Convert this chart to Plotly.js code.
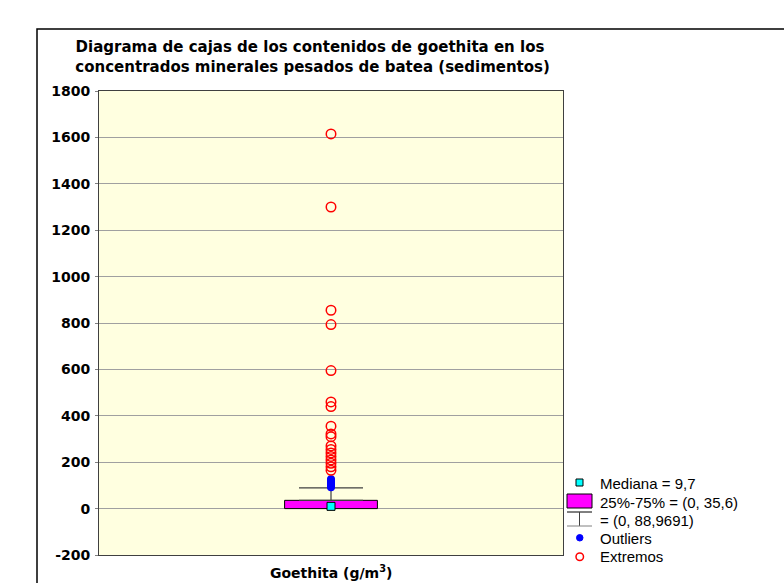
<!DOCTYPE html>
<html>
<head>
<meta charset="utf-8">
<script src="https://cdn.plot.ly/plotly-3.0.1.min.js"></script>
<style>html,body{margin:0;padding:0;background:#fff;}#chart{width:784px;height:583px;}</style>
</head>
<body>
<div id="chart"></div>
<script>
// ---- data ----
var category = 'Goethita';
var q1 = 0;
var median = 9.7;
var q3 = 35.6;
var whiskerLow = 0;
var whiskerHigh = 88.9691;
var outliers = [92, 97, 102, 107, 112, 117, 122, 127];
var extremos = [1615, 1300, 855, 793, 595, 460, 440, 355, 322, 310, 270, 255, 240, 225, 210, 195, 180, 165];
var yTicks = [-200, 0, 200, 400, 600, 800, 1000, 1200, 1400, 1600, 1800];
var legendLabels = ['Mediana = 9,7', '25%-75% = (0, 35,6)', '= (0, 88,9691)', 'Outliers', 'Extremos'];

// ---- layout helpers (pixel -> paper) ----
var L = 99, R = 563, T = 91, B = 555, W = 784, H = 583;
function px(x) { return (x - L) / (R - L); }
function py(y) { return (B - y) / (B - T); }

var font = 'Liberation Sans, Arial, sans-serif';
var boldFont = 'DejaVu Sans, sans-serif';
var xpos = 0;

var traces = [
  { // box (25%-75%)
    type: 'bar', x: [xpos], base: [q1], y: [q3 - q1], width: 0.4,
    marker: { color: '#FF00FF', line: { color: '#000000', width: 1 } },
    hoverinfo: 'skip', showlegend: false
  },
  { // whisker
    type: 'scatter', mode: 'markers', x: [xpos], y: [q3],
    marker: { size: 1, color: 'rgba(0,0,0,0)' },
    error_y: { type: 'data', symmetric: false, array: [whiskerHigh - q3], arrayminus: [whiskerLow],
               color: '#404040', thickness: 1.2, width: 32 },
    showlegend: false, hoverinfo: 'skip'
  },
  { // outliers
    type: 'scatter', mode: 'markers', x: outliers.map(function(){return xpos;}), y: outliers,
    marker: { symbol: 'circle', size: 8, color: '#0000FF' }, showlegend: false
  },
  { // extremes
    type: 'scatter', mode: 'markers', x: extremos.map(function(){return xpos;}), y: extremos,
    marker: { symbol: 'circle-open', size: 9.5, color: '#FF0000', line: { width: 1.5, color: '#FF0000' } },
    showlegend: false
  },
  { // median
    type: 'scatter', mode: 'markers', x: [xpos], y: [median],
    marker: { symbol: 'square', size: 8, color: '#00FFFF', line: { color: '#000000', width: 1 } },
    showlegend: false
  }
];

// ---- custom legend ----
var shapes = [
  { type: 'rect', xref: 'paper', yref: 'paper', x0: px(37), x1: 3, y0: -1, y1: py(29),
    line: { color: '#000000', width: 1.5 }, fillcolor: 'rgba(0,0,0,0)', layer: 'below' },
  // median square
  { type: 'rect', xref: 'paper', yref: 'paper', x0: px(576), x1: px(583), y0: py(486), y1: py(479),
    fillcolor: '#00FFFF', line: { color: '#000000', width: 1 } },
  // box rect
  { type: 'rect', xref: 'paper', yref: 'paper', x0: px(567), x1: px(592), y0: py(508), y1: py(494),
    fillcolor: '#FF00FF', line: { color: '#000000', width: 1 } },
  // whisker symbol
  { type: 'line', xref: 'paper', yref: 'paper', x0: px(567), x1: px(592), y0: py(512), y1: py(512),
    line: { color: '#000000', width: 1 } },
  { type: 'line', xref: 'paper', yref: 'paper', x0: px(579.5), x1: px(579.5), y0: py(512), y1: py(526),
    line: { color: '#404040', width: 1 } },
  { type: 'line', xref: 'paper', yref: 'paper', x0: px(567), x1: px(592), y0: py(526), y1: py(526),
    line: { color: '#808080', width: 1 } },
  // outlier dot
  { type: 'circle', xref: 'paper', yref: 'paper', x0: px(576.5), x1: px(583), y0: py(541), y1: py(534.5),
    fillcolor: '#0000FF', line: { color: '#0000FF', width: 1 } },
  // extreme circle
  { type: 'circle', xref: 'paper', yref: 'paper', x0: px(576), x1: px(583.5), y0: py(560.5), y1: py(553),
    fillcolor: 'rgba(0,0,0,0)', line: { color: '#FF0000', width: 1.5 } }
];
var legendY = [483, 502, 520, 538, 556];
var annotations = legendLabels.map(function (t, i) {
  return { xref: 'paper', yref: 'paper', x: px(598), y: py(legendY[i]), xanchor: 'left', yanchor: 'middle',
           text: t, showarrow: false, font: { family: font, size: 15, color: '#000000' } };
});
annotations.push({ xref: 'paper', yref: 'paper', x: px(331), y: py(583), xanchor: 'center', yanchor: 'bottom',
  text: '<b>Goethita (g/m<sup>3</sup>)</b>', showarrow: false, font: { family: boldFont, size: 14, color: '#000000' } });

var layout = {
  width: W, height: H,
  margin: { l: L, r: W - R, t: T, b: H - B, pad: 0 },
  paper_bgcolor: '#FFFFFF',
  plot_bgcolor: '#FFFFE0',
  showlegend: false,
  title: {
    text: 'Diagrama de cajas de los contenidos de goethita en los<br> concentrados minerales pesados de batea (sedimentos)',
    font: { family: boldFont, size: 15, color: '#000000', weight: 'bold' },
    xref: 'container', yref: 'container', x: 310 / W, xanchor: 'center', y: 1 - 52 / H, yanchor: 'top'
  },
  xaxis: { range: [-1, 1], showticklabels: false, showgrid: false, zeroline: false, ticks: '',
           showline: true, mirror: true, linecolor: '#404040', linewidth: 1, fixedrange: true },
  yaxis: { range: [-200, 1800], tickvals: yTicks, ticktext: yTicks.map(String), showgrid: true,
           gridcolor: '#A0A0A0', gridwidth: 1, zeroline: false, ticks: 'outside', ticklen: 3,
           tickcolor: '#808080', showline: true, mirror: true, linecolor: '#404040', linewidth: 1,
           tickfont: { family: boldFont, size: 14, color: '#000000', weight: 'bold' }, ticklabelstandoff: 2 },
  shapes: shapes,
  annotations: annotations
};

Plotly.newPlot('chart', traces, layout, { staticPlot: true, displayModeBar: false });
</script>
</body>
</html>
